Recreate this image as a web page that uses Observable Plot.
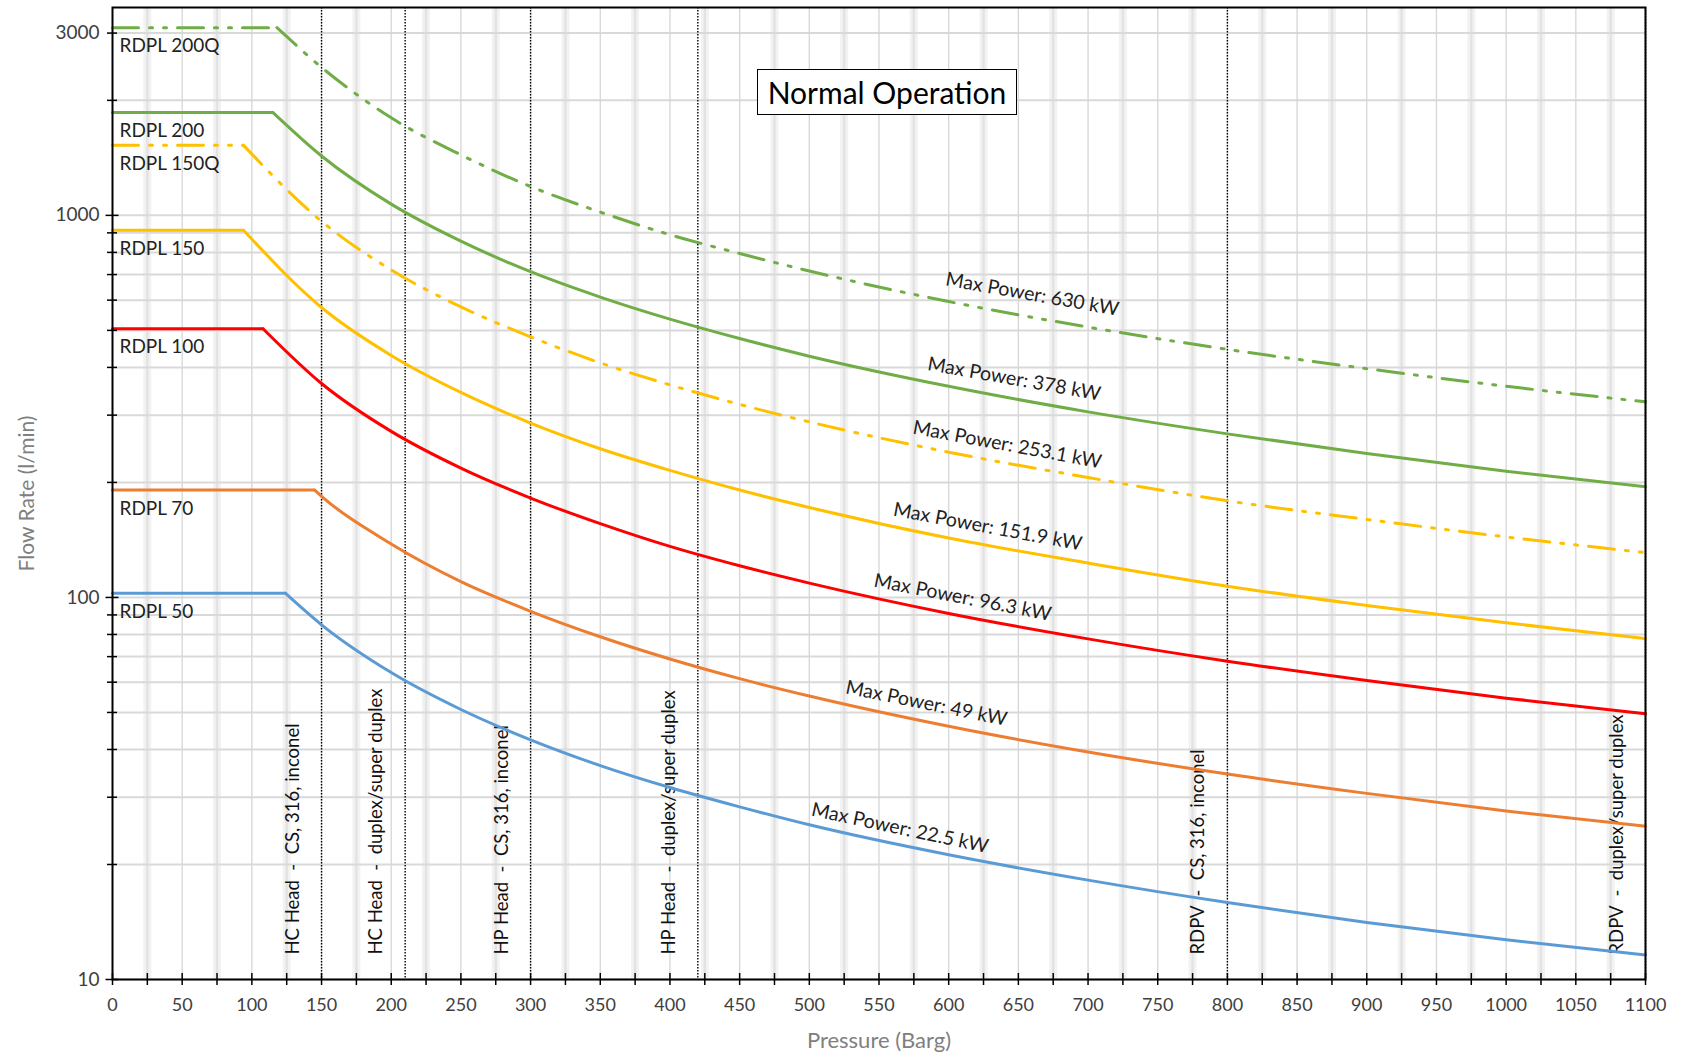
<!DOCTYPE html>
<html>
<head>
<meta charset="utf-8">
<script src="https://cdn.jsdelivr.net/npm/d3@7"></script>
<script src="https://cdn.jsdelivr.net/npm/@observablehq/plot@0.6"></script>
<style>
  html, body { margin: 0; padding: 0; background: #ffffff; }
  #chart { position: relative; width: 1691px; height: 1052px; font-family: Lato, "Open Sans", sans-serif; }
  #chart svg text { white-space: pre; }
  #badge {
    position: absolute; left: 757px; top: 69px; width: 258px; height: 44px;
    border: 1.6px solid #000; background: #fff;
    font: 30px Lato, "Open Sans", sans-serif; color: #000;
    display: flex; align-items: center; justify-content: center;
  }
</style>
</head>
<body>
<div id="chart"><div id="badge">Normal Operation</div></div>
<script>
// Pump models and their operating envelopes (flow in l/min vs discharge pressure in barg)
const models = ["RDPL 200Q", "RDPL 200", "RDPL 150Q", "RDPL 150", "RDPL 100", "RDPL 70", "RDPL 50"];
const modelColors = ["#70AD47", "#70AD47", "#FFC000", "#FFC000", "#FF0000", "#ED7D31", "#5B9BD5"];
const dashedModels = ["RDPL 200Q", "RDPL 150Q"];

// Rated flow (flat part) and the pressure where the power limit takes over
const ratedFlow = [3100, 1860, 1525, 914, 505, 191, 102.6];
const kneePressure = [118, 115, 94, 94, 108, 145, 124];

// Power-limited flow at these pressures
const pressureGrid = [150, 200, 250, 300, 350, 400, 450, 500, 600, 700, 800, 900, 1000, 1100];
const flowRDPL200Q = [2440, 1800, 1440, 1190, 1020, 890, 795, 715, 595, 510, 446, 397, 357, 325];
const flowRDPL200  = [1430, 1070, 856, 712, 611, 535, 476, 428, 357, 306, 268, 238, 214, 195];
const flowRDPL150Q = [965, 720, 576, 481, 411, 360, 320, 288, 240, 206, 179, 160, 144, 131];
const flowRDPL150  = [574, 430, 344, 286, 245, 215, 191, 172, 143, 123, 107, 95.3, 85.8, 78];
const flowRDPL100  = [363, 272, 218, 182, 156, 136, 121, 109, 90.8, 77.9, 68.1, 60.6, 54.5, 49.6];
const flowRDPL70   = [184, 138, 110, 92, 78.9, 69, 61.3, 55.2, 46, 39.4, 34.5, 30.7, 27.6, 25.2];
const flowRDPL50   = [84.8, 63.6, 50.9, 42.4, 36.3, 31.8, 28.3, 25.4, 21.2, 18.2, 15.9, 14.1, 12.7, 11.6];
const limitedFlow = [flowRDPL200Q, flowRDPL200, flowRDPL150Q, flowRDPL150, flowRDPL100, flowRDPL70, flowRDPL50];

// "Max Power" annotations along each curve
const maxPower = ["630", "378", "253.1", "151.9", "96.3", "49", "22.5"];
const powerLabelPressure = [660, 647, 642, 628, 610, 584, 565];
const powerLabelFlow = [621, 373, 251, 153, 100, 52.8, 24.9];
const powerLabelAngle = [10, 10, 10.5, 10.5, 11, 11.5, 12];

// Material pressure limits
const materialLimits = [150, 210, 300, 420, 800, 1100];
const materialLabels = [
  "HC Head  -  CS, 316, inconel",
  "HC Head  -  duplex/super duplex",
  "HP Head  -  CS, 316, inconel",
  "HP Head  -  duplex/super duplex",
  "RDPV  -  CS, 316, inconel",
  "RDPV  -  duplex/super duplex"
];

// Axis ticks
const xTicks = d3.range(0, 1101, 25);
const xTickLabels = d3.range(0, 1101, 50);
const yMinorTicks = [20, 30, 40, 50, 60, 70, 80, 90, 200, 300, 400, 500, 600, 700, 800, 900, 2000, 3000];
const yMajorTicks = [10, 100, 1000];
const yTickLabels = [10, 100, 1000, 3000];

// Build line rows: a flat segment and a power-limited segment per model
const rows = [];
models.forEach((m, i) => {
  rows.push({model: m, seg: m + " flat", p: 0, q: ratedFlow[i]});
  rows.push({model: m, seg: m + " flat", p: kneePressure[i], q: ratedFlow[i]});
  rows.push({model: m, seg: m + " curve", p: kneePressure[i], q: ratedFlow[i]});
  pressureGrid.forEach((p, j) => rows.push({model: m, seg: m + " curve", p, q: limitedFlow[i][j]}));
});
const solidRows = rows.filter(d => !dashedModels.includes(d.model));
const dashedRows = rows.filter(d => dashedModels.includes(d.model));

const nameRows = models.map((m, i) => ({model: m, p: 0, q: ratedFlow[i]}));
const powerRows = models.map((m, i) => ({
  text: `Max Power: ${maxPower[i]} kW`, p: powerLabelPressure[i], q: powerLabelFlow[i], angle: powerLabelAngle[i]
}));
const materialRows = materialLimits.map((p, i) => ({p, text: materialLabels[i]}));

const gridTens = d3.range(50, 1100, 50);
const gridBands = d3.range(25, 1100, 50);
const yGrid = [...yMajorTicks, ...yMinorTicks];

const font = "Lato, 'Open Sans', sans-serif";

const chart = Plot.plot({
  width: 1691,
  height: 1052,
  marginLeft: 112,
  marginRight: 46,
  marginTop: 7,
  marginBottom: 73,
  style: {fontFamily: font, background: "#ffffff"},
  x: {domain: [0, 1100], label: null},
  y: {type: "log", domain: [10, 3500], label: null},
  color: {domain: models, range: modelColors},
  marks: [
    // soft vertical bands and thin gridlines
    Plot.ruleX(gridBands, {stroke: "#f2f2f2", strokeWidth: 8}),
    Plot.ruleX(gridBands, {stroke: "#e3e3e3", strokeWidth: 2.5}),
    Plot.ruleY(yGrid, {stroke: "#d9d9d9", strokeWidth: 2}),
    Plot.ruleX(gridTens, {stroke: "#d6d6d6", strokeWidth: 1.3}),

    // material pressure limits
    Plot.ruleX(materialLimits, {stroke: "#000", strokeWidth: 1.4, strokeDasharray: "1.5,1.5"}),
    Plot.text(materialRows, {
      x: "p", text: "text", frameAnchor: "bottom", rotate: -90,
      textAnchor: "start", lineAnchor: "bottom", dx: -23, dy: -25,
      fontSize: 18.5, fill: "#111"
    }),

    // envelopes
    Plot.line(solidRows, {x: "p", y: "q", z: "seg", stroke: "model", strokeWidth: 3, curve: "monotone-x"}),
    Plot.line(dashedRows, {x: "p", y: "q", z: "seg", stroke: "model", strokeWidth: 3, curve: "monotone-x",
      strokeDasharray: "26,11,3,11,3,11"}),

    // model names under the flat segments
    Plot.text(nameRows, {x: "p", y: "q", text: "model", textAnchor: "start", lineAnchor: "top",
      dx: 7, dy: 11, fontSize: 19, fill: "#222"}),

    // max power annotations
    Plot.text(powerRows, {x: "p", y: "q", text: "text", rotate: "angle", fontSize: 19.5, fill: "#222"}),

    // frame and axes
    Plot.frame({stroke: "#000", strokeWidth: 2}),
    Plot.axisX({ticks: xTicks, tickSize: 12, dy: -6, text: null, color: "#000", strokeWidth: 1.5, label: null}),
    Plot.axisX({ticks: xTickLabels, tickSize: 0, tickPadding: 19, fontSize: 18, color: "#404040", label: null,
      tickFormat: d => String(d)}),
    Plot.axisY({ticks: yMinorTicks, tickSize: 10, dx: 5, text: null, color: "#000", strokeWidth: 1.5, label: null}),
    Plot.axisY({ticks: yMajorTicks, tickSize: 13, dx: 6.5, text: null, color: "#000", strokeWidth: 1.5, label: null}),
    Plot.axisY({ticks: yTickLabels, tickSize: 0, tickPadding: 13, fontSize: 19, color: "#404040", label: null,
      tickFormat: d => String(d)}),

    // axis titles
    Plot.text(["Flow Rate (l/min)"], {frameAnchor: "left", dx: -85, rotate: -90, textAnchor: "middle",
      lineAnchor: "middle", fontSize: 21, fill: "#808080"}),
    Plot.text(["Pressure (Barg)"], {frameAnchor: "bottom", dy: 61, textAnchor: "middle",
      lineAnchor: "middle", fontSize: 22, fill: "#808080"})
  ]
});

document.getElementById("chart").prepend(chart);
</script>
</body>
</html>
